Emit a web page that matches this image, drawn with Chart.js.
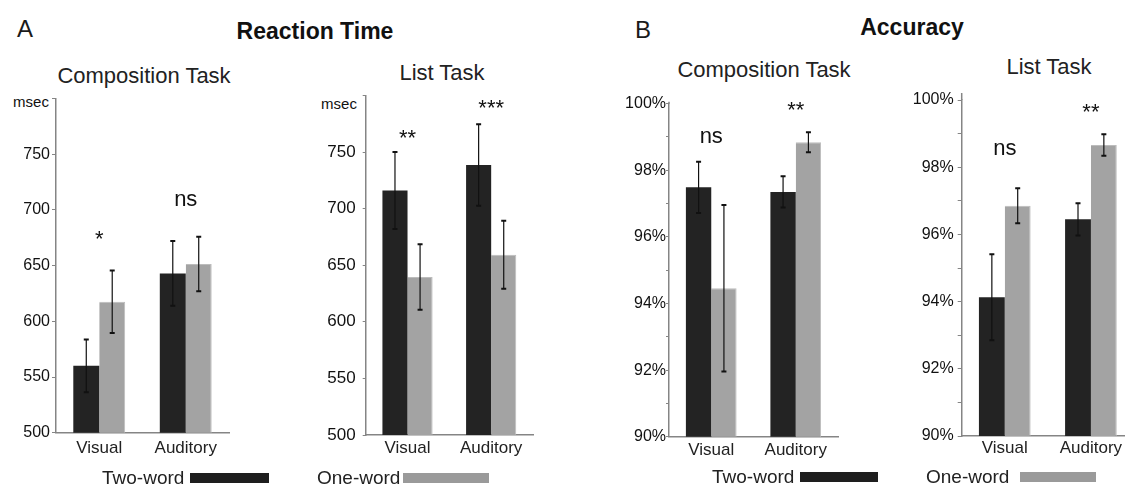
<!DOCTYPE html>
<html lang="en">
<head>
<meta charset="UTF-8">
<title>Reaction Time and Accuracy</title>
<style>
    body {
        margin: 0;
        padding: 0;
        background: #fff;
        font-family: "Liberation Sans", Arial, sans-serif;
        color: #1a1a1a;
    }
    #page {
        position: relative;
        width: 1125px;
        height: 487px;
        overflow: hidden;
    }
    canvas {
        position: absolute;
    }
    .txt {
        position: absolute;
        white-space: nowrap;
        transform: translate(-50%, -50%);
    }
    .panel-letter { font-size: 24px; }
    .head { font-size: 23px; font-weight: bold; color: #111; }
    .task { font-size: 22px; color: #222; }
    .unit { font-size: 15px; color: #111; }
    .legend-text { font-size: 19px; color: #222; transform: translate(0, -50%); }
    .legend-box { position: absolute; height: 10px; }
</style>
</head>
<body>
<div id="page">
    <div class="txt panel-letter" style="left:25px; top:29px;">A</div>
    <div class="txt head" style="left:315px; top:31px;">Reaction Time</div>
    <div class="txt panel-letter" style="left:643px; top:30px;">B</div>
    <div class="txt head" style="left:912px; top:27px;">Accuracy</div>

    <div class="txt task" style="left:144px; top:76px;">Composition Task</div>
    <div class="txt task" style="left:442px; top:73px;">List Task</div>
    <div class="txt task" style="left:764px; top:70px;">Composition Task</div>
    <div class="txt task" style="left:1049px; top:67px;">List Task</div>

    <div class="txt unit" style="left:31px; top:101px;">msec</div>
    <div class="txt unit" style="left:339px; top:103px;">msec</div>

    <canvas id="rtComp" width="240" height="400" style="left:0px; top:80px;"></canvas>
    <canvas id="rtList" width="245" height="400" style="left:300px; top:80px;"></canvas>
    <canvas id="accComp" width="260" height="400" style="left:590px; top:80px;"></canvas>
    <canvas id="accList" width="244" height="400" style="left:890px; top:80px;"></canvas>

    <div class="txt legend-text" style="left:102px; top:478px;">Two-word</div>
    <div class="legend-box" style="left:190px; top:473px; width:79px; background:#1e1e1e;"></div>
    <div class="txt legend-text" style="left:317px; top:478px;">One-word</div>
    <div class="legend-box" style="left:403px; top:473px; width:86px; background:#9a9a9a;"></div>
    <div class="txt legend-text" style="left:712px; top:477px;">Two-word</div>
    <div class="legend-box" style="left:800px; top:472px; width:78px; background:#1e1e1e;"></div>
    <div class="txt legend-text" style="left:926px; top:477px;">One-word</div>
    <div class="legend-box" style="left:1020px; top:472px; width:76px; background:#9a9a9a;"></div>
</div>

<script src="https://cdn.jsdelivr.net/npm/chart.js"></script>
<script>
    // categories and series
    const categories = ['Visual', 'Auditory'];
    const seriesNames = ['Two-word', 'One-word'];

    // reaction time, composition task (msec)
    const rtCompTwo = [560, 643];
    const rtCompTwoErr = [23.6, 29];
    const rtCompOne = [617.6, 651.4];
    const rtCompOneErr = [28, 24.5];
    const rtCompSig = ['*', 'ns'];
    const rtCompSigAt = [677.5, 708.9];

    // reaction time, list task (msec)
    const rtListTwo = [716, 738.5];
    const rtListTwoErr = [34, 36];
    const rtListOne = [639.6, 659.3];
    const rtListOneErr = [29, 30];
    const rtListSig = ['**', '***'];
    const rtListSigAt = [765.6, 792.4];

    // accuracy, composition task (%)
    const accCompTwo = [97.49, 97.35];
    const accCompTwoErr = [0.77, 0.47];
    const accCompOne = [94.46, 98.84];
    const accCompOneErr = [2.5, 0.3];
    const accCompSig = ['ns', '**'];
    const accCompSigAt = [99.0, 99.93];

    // accuracy, list task (%)
    const accListTwo = [94.13, 96.45];
    const accListTwoErr = [1.28, 0.48];
    const accListOne = [96.85, 98.66];
    const accListOneErr = [0.52, 0.32];
    const accListSig = ['ns', '**'];
    const accListSigAt = [98.54, 99.75];

    // tick values and labels
    const rtTicks = [500, 550, 600, 650, 700, 750, 800];
    const rtTickLabels = ['500', '550', '600', '650', '700', '750', ''];
    const accTicks = [90, 91, 92, 93, 94, 95, 96, 97, 98, 99, 100];
    const accTickLabels = ['90%', '', '92%', '', '94%', '', '96%', '', '98%', '', '100%'];

    const darkColor = '#232323';
    const lightColor = '#a3a3a3';
    const axisColor = '#858585';
    const fontFamily = '"Liberation Sans", Arial, sans-serif';

    // error bars, significance marks and the bit of y axis above the top tick
    const errSigPlugin = {
        id: 'errSig',
        afterDatasetsDraw(chart, args, opts) {
            const ctx = chart.ctx;
            const xs = chart.scales.x;
            const ys = chart.scales.y;
            ctx.save();
            if (opts.overhang) {
                ctx.strokeStyle = axisColor;
                ctx.lineWidth = 1.5;
                ctx.beginPath();
                ctx.moveTo(chart.chartArea.left, chart.chartArea.top - opts.overhang);
                ctx.lineTo(chart.chartArea.left, chart.chartArea.top);
                ctx.stroke();
            }
            ctx.strokeStyle = '#111';
            chart.data.datasets.forEach((ds, i) => {
                const meta = chart.getDatasetMeta(i);
                meta.data.forEach((bar, j) => {
                    const v = ds.data[j];
                    const e = ds.err[j];
                    const top = ys.getPixelForValue(v + e);
                    const bot = ys.getPixelForValue(v - e);
                    ctx.lineWidth = 1.2;
                    ctx.beginPath();
                    ctx.moveTo(bar.x, top);
                    ctx.lineTo(bar.x, bot);
                    ctx.stroke();
                    ctx.lineWidth = 2;
                    ctx.beginPath();
                    ctx.moveTo(bar.x - 2.5, top);
                    ctx.lineTo(bar.x + 2.5, top);
                    ctx.moveTo(bar.x - 2.5, bot);
                    ctx.lineTo(bar.x + 2.5, bot);
                    ctx.stroke();
                });
            });
            ctx.fillStyle = '#111';
            ctx.font = '22px ' + fontFamily;
            ctx.textAlign = 'center';
            ctx.textBaseline = 'alphabetic';
            const labels = opts.labels || [];
            labels.forEach((s, j) => {
                const m = ctx.measureText(s);
                const cy = ys.getPixelForValue(opts.at[j]);
                const base = cy + (m.actualBoundingBoxAscent - m.actualBoundingBoxDescent) / 2;
                ctx.fillText(s, xs.getPixelForValue(j), base);
            });
            ctx.restore();
        }
    };

    function makeChart(id, two, twoErr, one, oneErr, sig, sigAt, ticks, tickLabels, geo) {
        const ctx = document.getElementById(id).getContext('2d');
        return new Chart(ctx, {
            type: 'bar',
            data: {
                labels: categories,
                datasets: [
                    { label: seriesNames[0], data: two, err: twoErr, backgroundColor: darkColor },
                    { label: seriesNames[1], data: one, err: oneErr, backgroundColor: lightColor,
                      borderColor: '#bcbcbc', borderWidth: { top: 1, left: 0, right: 1, bottom: 0 } }
                ]
            },
            options: {
                responsive: false,
                animation: false,
                devicePixelRatio: 1,
                layout: { padding: { top: geo.padTop, right: geo.padRight, left: 0, bottom: 0 } },
                plugins: {
                    legend: { display: false },
                    tooltip: { enabled: false },
                    errSig: { labels: sig, at: sigAt, overhang: geo.overhang || 0 }
                },
                datasets: {
                    bar: { categoryPercentage: 0.6, barPercentage: 1.0 }
                },
                scales: {
                    x: {
                        grid: { display: false, drawTicks: false },
                        border: { display: true, color: axisColor, width: 1.5 },
                        ticks: {
                            color: '#222',
                            padding: geo.xPad,
                            font: { family: fontFamily, size: 17 }
                        },
                        afterFit(scale) {
                            scale.height = geo.xHeight;
                            scale.paddingLeft = 0;
                            scale.paddingRight = 0;
                        }
                    },
                    y: {
                        min: ticks[0],
                        max: ticks[ticks.length - 1],
                        afterBuildTicks(scale) {
                            scale.ticks = ticks.map(v => ({ value: v }));
                        },
                        grid: {
                            drawOnChartArea: false,
                            drawTicks: true,
                            tickLength: geo.tickLen,
                            color: axisColor,
                            tickColor: axisColor
                        },
                        border: { display: true, color: axisColor, width: 1.5 },
                        ticks: {
                            autoSkip: false,
                            color: '#111',
                            padding: geo.yPad,
                            font: { family: fontFamily, size: geo.yFont },
                            callback: (value, index) => tickLabels[index]
                        },
                        afterFit(scale) {
                            scale.width = geo.yWidth;
                            scale.paddingTop = 0;
                            scale.paddingBottom = 0;
                        }
                    }
                }
            },
            plugins: [errSigPlugin]
        });
    }

    makeChart('rtComp', rtCompTwo, rtCompTwoErr, rtCompOne, rtCompOneErr, rtCompSig, rtCompSigAt,
        rtTicks, rtTickLabels,
        { yWidth: 56, padRight: 11, padTop: 18.5, xHeight: 47.3, tickLen: 4, yPad: 2, yFont: 16, xPad: 5 });

    makeChart('rtList', rtListTwo, rtListTwoErr, rtListOne, rtListOneErr, rtListSig, rtListSigAt,
        rtTicks, rtTickLabels,
        { yWidth: 65.7, padRight: 12, padTop: 15.4, xHeight: 45, tickLen: 3, yPad: 7, yFont: 17, xPad: 3 });

    makeChart('accComp', accCompTwo, accCompTwoErr, accCompOne, accCompOneErr, accCompSig, accCompSigAt,
        accTicks, accTickLabels,
        { yWidth: 79, padRight: 12, padTop: 23.7, xHeight: 43.3, tickLen: 3, yPad: 0, yFont: 16, xPad: 3, overhang: 2 });

    makeChart('accList', accListTwo, accListTwoErr, accListOne, accListOneErr, accListSig, accListSigAt,
        accTicks, accTickLabels,
        { yWidth: 71.7, padRight: 0, padTop: 20, xHeight: 44, tickLen: 4, yPad: 4, yFont: 16, xPad: 2, overhang: 7 });
</script>
</body>
</html>
